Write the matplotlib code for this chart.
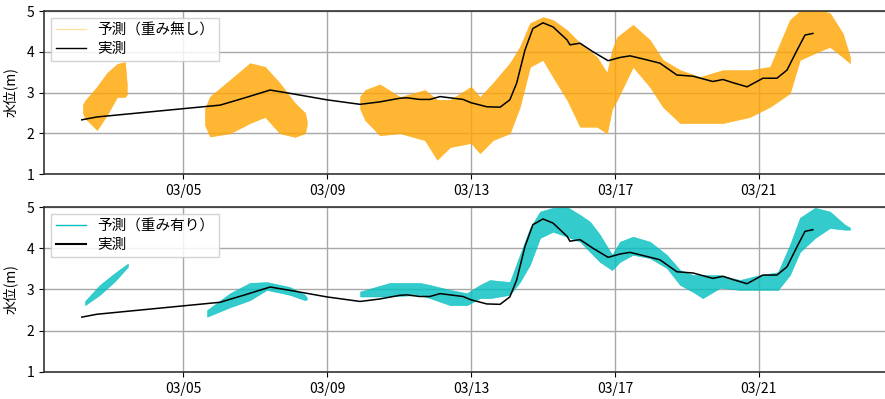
import matplotlib
matplotlib.use('Agg')
import matplotlib.pyplot as plt
import matplotlib.dates as mdates
from matplotlib.lines import Line2D
import numpy as np
import pandas as pd

plt.rcParams['font.family'] = ['Noto Sans CJK JP', 'DejaVu Sans']
plt.rcParams['font.size'] = 10

# 実測 (3月の日, 水位 m)
obs_day = [2.19, 2.61, 6.03, 6.72, 7.42, 7.97, 9.0, 9.92, 10.47, 11.03, 11.22, 11.58,
           11.86, 12.14, 12.78, 13.0, 13.44, 13.81, 14.08, 14.27, 14.5, 14.72, 15.0,
           15.28, 15.67, 15.75, 16.03, 16.39, 16.81, 17.14, 17.42, 17.89, 18.25, 18.72,
           19.17, 19.72, 20.0, 20.28, 20.67, 21.11, 21.5, 21.78, 22.06, 22.28, 22.5]
obs_val = [2.33, 2.40, 2.69, 2.87, 3.06, 2.98, 2.82, 2.71, 2.77, 2.86, 2.87, 2.83,
           2.83, 2.90, 2.83, 2.75, 2.65, 2.64, 2.82, 3.23, 4.04, 4.57, 4.71,
           4.61, 4.29, 4.17, 4.21, 4.00, 3.78, 3.86, 3.90, 3.80, 3.72, 3.43,
           3.40, 3.27, 3.32, 3.24, 3.14, 3.35, 3.35, 3.55, 4.04, 4.41, 4.45]

# 予測（重み無し）: アンサンブルの上端・下端
nw_day = [
    [2.22, 2.28, 2.61, 2.89, 3.17, 3.39, 3.44],
    [5.61, 5.75, 6.31, 6.86, 7.28, 7.69, 8.11, 8.39, 8.44],
    [9.92, 10.06, 10.47, 11.03, 11.72, 12.06, 12.42, 13.0, 13.25, 13.61, 14.08, 14.36,
     14.64, 15.0, 15.28, 15.67, 16.03, 16.5, 16.78, 16.92, 17.06, 17.5, 17.97, 18.33,
     18.81, 19.36, 20.0, 20.75, 21.31, 21.86, 22.14, 22.56, 22.97, 23.33, 23.53],
]
nw_hi = [
    [2.70, 2.80, 3.14, 3.48, 3.70, 3.75, 3.20],
    [2.60, 2.90, 3.31, 3.72, 3.63, 3.23, 2.74, 2.50, 2.30],
    [2.90, 3.06, 3.20, 2.89, 3.06, 2.82, 2.82, 3.14, 2.89, 3.23, 3.72, 4.12,
     4.70, 4.85, 4.78, 4.53, 4.21, 3.87, 3.48, 4.04, 4.36, 4.66, 4.29, 3.80,
     3.55, 3.38, 3.55, 3.55, 3.63, 4.78, 5.00, 5.05, 4.95, 4.45, 3.87],
]
nw_lo = [
    [2.50, 2.37, 2.08, 2.45, 2.89, 2.89, 2.95],
    [2.20, 1.92, 2.00, 2.25, 2.40, 2.00, 1.91, 2.00, 2.20],
    [2.60, 2.32, 1.95, 2.00, 1.83, 1.35, 1.66, 1.76, 1.51, 1.83, 2.00, 2.65,
     3.63, 3.80, 3.38, 2.82, 2.16, 2.16, 2.00, 2.60, 2.82, 3.63, 3.14, 2.65,
     2.25, 2.25, 2.25, 2.40, 2.65, 2.98, 3.80, 3.97, 4.12, 3.87, 3.72],
]

# 予測（重み有り）
w_day = [
    [2.28, 2.69, 3.11, 3.47],
    [5.67, 6.31, 6.86, 7.33, 7.97, 8.39, 8.44],
    [9.92, 10.75, 11.58, 11.86, 12.42, 12.89, 13.25, 13.53, 14.08, 14.36, 14.64, 14.92,
     15.28, 15.67, 16.03, 16.31, 16.58, 16.92, 17.14, 17.5, 17.97, 18.44, 18.81, 19.17,
     19.44, 19.92, 20.47, 21.03, 21.53, 21.86, 22.14, 22.56, 22.97, 23.39, 23.53],
]
w_hi = [
    [2.72, 3.11, 3.40, 3.63],
    [2.50, 2.91, 3.16, 3.18, 3.06, 2.87, 2.80],
    [2.95, 3.16, 3.16, 3.11, 2.99, 2.91, 3.11, 3.23, 3.18, 3.84, 4.49, 4.89,
     4.98, 5.00, 4.81, 4.64, 4.33, 3.84, 4.16, 4.28, 4.16, 3.84, 3.47, 3.35,
     3.35, 3.35, 3.23, 3.35, 3.42, 4.08, 4.74, 4.98, 4.89, 4.57, 4.50],
]
w_lo = [
    [2.62, 2.87, 3.20, 3.55],
    [2.34, 2.57, 2.74, 2.99, 2.87, 2.74, 2.76],
    [2.83, 2.83, 2.87, 2.79, 2.62, 2.62, 2.79, 2.79, 2.87, 3.18, 3.60, 4.25,
     4.40, 4.28, 4.16, 3.91, 3.67, 3.47, 3.67, 3.84, 3.76, 3.52, 3.11, 2.94,
     2.79, 3.04, 2.99, 2.99, 2.99, 3.35, 3.91, 4.25, 4.49, 4.45, 4.45],
]

base = pd.Timestamp('2023-03-01')


def to_dt(days):
    return base + pd.to_timedelta(np.array(days) - 1, unit='D')


fig = plt.figure(figsize=(8.85, 3.99), dpi=100)
ax1 = fig.add_axes([0.0497, 0.5639, 0.9559, 0.4085])
ax2 = fig.add_axes([0.0497, 0.0677, 0.9559, 0.4135])

panels = [
    (ax1, nw_day, nw_hi, nw_lo, 'orange', '予測（重み無し）', 0.35, 1.0),
    (ax2, w_day, w_hi, w_lo, 'c', '予測（重み有り）', 1.0, 1.5),
]

for ax, dd, hi, lo, col, lab, lg_alpha, obs_lw in panels:
    for d, h, l in zip(dd, hi, lo):
        ax.fill_between(to_dt(d), l, h, color=col, alpha=0.8, lw=0.4, zorder=2)
    ax.plot(to_dt(obs_day), obs_val, color='black', lw=1.1, zorder=3)

    ax.set_ylim(1, 5)
    ax.set_yticks([1, 2, 3, 4, 5])
    ax.set_xlim(to_dt([1.139])[0], to_dt([24.64])[0])
    ax.xaxis.set_major_locator(mdates.DayLocator(bymonthday=[5, 9, 13, 17, 21]))
    ax.xaxis.set_major_formatter(mdates.DateFormatter('%m/%d'))
    ax.grid(True, color='#a8a8a8', lw=1.0)
    ax.set_ylabel('水位(m)', labelpad=6)
    for s in ax.spines.values():
        s.set_color('#333333')
        s.set_linewidth(1.2)
    ax.spines['right'].set_visible(False)

    handles = [Line2D([], [], color=col, lw=1.0, alpha=lg_alpha),
               Line2D([], [], color='black', lw=obs_lw)]
    ax.legend(handles, [lab, '実測'], loc='upper left', fancybox=False,
              framealpha=0.85, edgecolor='#cccccc', fontsize=10.5,
              labelspacing=0.3, borderpad=0.35)

fig.savefig('out.png', dpi=100)
